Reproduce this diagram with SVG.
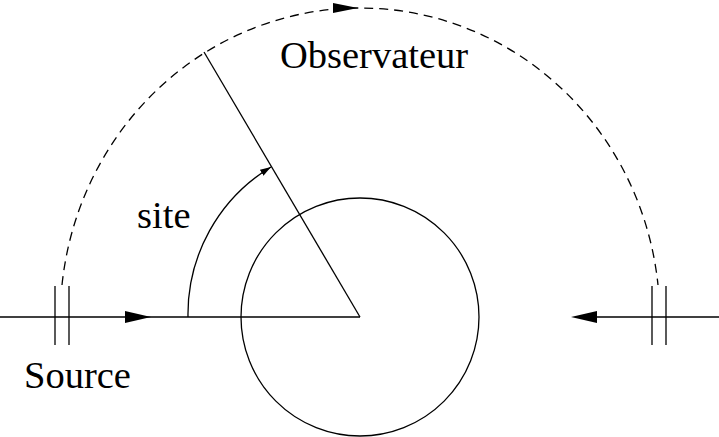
<svg xmlns="http://www.w3.org/2000/svg" width="719" height="437" viewBox="0 0 719 437">
<style>
.ln{fill:none;stroke:#000;stroke-width:1.3}
.ds{fill:none;stroke:#000;stroke-width:1.3;stroke-dasharray:9 6}
.t{font-family:"Liberation Serif","Times New Roman",serif;font-size:38.5px;fill:#000}
</style>
<defs>
<marker id="sm" markerWidth="12" markerHeight="8" refX="11" refY="4" orient="auto" markerUnits="userSpaceOnUse">
<path d="M0,0.5 L11,4 L0,7.5 Z" fill="#000"/>
</marker>
</defs>
<g id="earth"><circle class="ln" cx="360" cy="317" r="119"/></g>
<g id="connectors">
<path class="ds" d="M62 285 A299.5 310 0 0 1 360 8 A299.5 310 0 0 1 658 285"/>
<polygon points="333,3 358,8 333,13" fill="#000"/>
<line class="ln" x1="0" y1="317" x2="360" y2="317"/>
<polygon points="125,311 151,317 125,323" fill="#000"/>
<line class="ln" x1="597" y1="317" x2="719" y2="317"/>
<polygon points="597,311 571,317 597,323" fill="#000"/>
<line class="ln" x1="360" y1="317" x2="204" y2="52"/>
<path class="ln" d="M188 317 A172 172 0 0 1 271 167" marker-end="url(#sm)"/>
</g>
<g id="source">
<line class="ln" x1="55" y1="286" x2="55" y2="345"/>
<line class="ln" x1="69" y1="286" x2="69" y2="345"/>
<text class="t" x="24" y="388">Source</text>
</g>
<g id="receiver">
<line class="ln" x1="652" y1="286" x2="652" y2="345"/>
<line class="ln" x1="666" y1="286" x2="666" y2="345"/>
</g>
<g id="observateur"><text class="t" x="280" y="68">Observateur</text></g>
<g id="site"><text class="t" x="137" y="228">site</text></g>
</svg>
